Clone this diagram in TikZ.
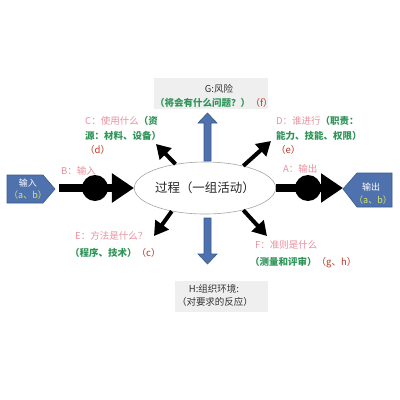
\documentclass[tikz,border=0pt]{standalone}
\usepackage{fontspec}
\setmainfont{Noto Sans CJK SC}
\usetikzlibrary{arrows.meta,shapes.geometric}
\definecolor{pk}{HTML}{E8909E}
\definecolor{gr}{HTML}{2E9458}
\definecolor{rd}{HTML}{C0392B}
\definecolor{bl}{HTML}{4F72AE}
\definecolor{bld}{HTML}{3A5A8C}
\definecolor{yl}{HTML}{D6E86A}
\definecolor{gbox}{HTML}{EFEFEF}
\newcommand{\gtx}[1]{\textcolor{gr}{\bfseries #1}}
\tikzset{
  lbl/.style={anchor=west, inner sep=0pt, font=\fontsize{9.5}{11}\selectfont},
  bigarrow/.style={line width=8pt, -{Triangle[width=28pt,length=22pt]}},
  diagarrow/.style={line width=4pt, -{Triangle[width=16pt,length=14pt]}},
  dot/.style={circle, fill=black, minimum size=26pt, inner sep=0pt},
  blarrow/.style={fill=bl, draw=bld, line width=0.6pt},
  pent/.style={fill=bl, draw=bld, line width=0.6pt},
  gtext/.style={inner sep=0pt, font=\fontsize{9.5}{11}\selectfont}
}
\begin{document}
\begin{tikzpicture}[x=1pt,y=-1pt]
\useasboundingbox (0,0) rectangle (400,400);
\fill[white] (0,0) rectangle (400,400);

% gray boxes
\fill[gbox] (154,78) rectangle (268,109);
\fill[gbox] (175,281) rectangle (268,312);

% central ellipse
\node[ellipse, draw=gray!70, line width=0.6pt, minimum width=134pt, minimum height=52pt, inner sep=0pt,
      font=\fontsize{12.5}{14}\selectfont, text=black!85] (proc) at (205,188) {过程（一组活动）};

% blue arrows
\filldraw[blarrow] (204,161) -- (204,123) -- (198,123) -- (207.5,113) -- (217,123) -- (211,123) -- (211,161) -- cycle;
\filldraw[blarrow] (204,218) -- (204,254) -- (198,254) -- (207.5,264) -- (217,254) -- (211,254) -- (211,218) -- cycle;

% input pentagon
\filldraw[pent] (7,175) -- (43,175) -- (55,189) -- (43,203) -- (7,203) -- cycle;
\node[inner sep=0pt, text=white, font=\fontsize{9}{10}\selectfont] (inp) at (28,183) {输入};
\node[inner sep=0pt, text=yl, font=\fontsize{9}{10}\selectfont] (inpab) at (28,195.5) {（a、b）};
\coordinate (instart) at (59,188);

% output pentagon
\filldraw[pent] (343,189) -- (357,173) -- (392,173) -- (392,207) -- (357,207) -- cycle;
\node[inner sep=0pt, text=white, font=\fontsize{9}{10}\selectfont] (outp) at (371,187) {输出};
\node[inner sep=0pt, text=yl, font=\fontsize{9}{10}\selectfont] (outpab) at (373,200) {（a、b）};
\coordinate (outtip) at (343,188);

% main black arrows
\draw[bigarrow] (instart) -- (proc.west);
\node[dot] (d1) at (95,188) {};
\draw[bigarrow] (proc.east) -- (outtip);
\node[dot] (d2) at (308,188) {};

% diagonal arrows
\coordinate (ul) at (156,144);
\coordinate (ur) at (271,141);
\coordinate (ll) at (154,236);
\coordinate (lr) at (267,236);
\draw[diagarrow] (proc.141) -- (ul);
\draw[diagarrow] (proc.30) -- (ur);
\draw[diagarrow] (proc.215) -- (ll);
\draw[diagarrow] (proc.330) -- (lr);

% labels
\node[lbl, text=pk] (lb) at (61,171) {B：输入};
\node[lbl, text=pk] (la) at (283,169) {A：输出};

\node[gtext, text=black!80] (g1) at (219,89) {G:风险};
\node[gtext, anchor=west] (g2) at (155,103) {\gtx{（将会有什么问题？）}};
\node[gtext, text=rd, anchor=west] (g3) at (g2.east) {（f）};

\node[gtext, text=black!80] (h1) at (214,289) {H:组织环境:};
\node[gtext, text=black!80] (h2) at (215,302) {（对要求的反应）};

\node[lbl] (c1) at (85,121) {\textcolor{pk}{C：使用什么}\gtx{（资}};
\node[lbl] (c2) at (85,136) {\gtx{源：材料、设备）}};
\node[lbl, text=rd] (c3) at (85,150) {（d）};

\node[lbl] (dd1) at (276,121) {\textcolor{pk}{D：谁进行}\gtx{（职责：}};
\node[lbl] (dd2) at (276,136) {\gtx{能力、技能、权限）}};
\node[lbl, text=rd] (dd3) at (276,150) {（e）};

\node[lbl, text=pk] (e1) at (75,236) {E：方法是什么？};
\node[lbl] (e2) at (70,253) {\gtx{（程序、技术）}\textcolor{rd}{（c）}};

\node[lbl, text=pk] (f1) at (255,245) {F：准则是什么};
\node[lbl] (f2) at (250,263) {\gtx{（测量和评审）}\textcolor{rd}{（g、h）}};
\end{tikzpicture}
\end{document}
